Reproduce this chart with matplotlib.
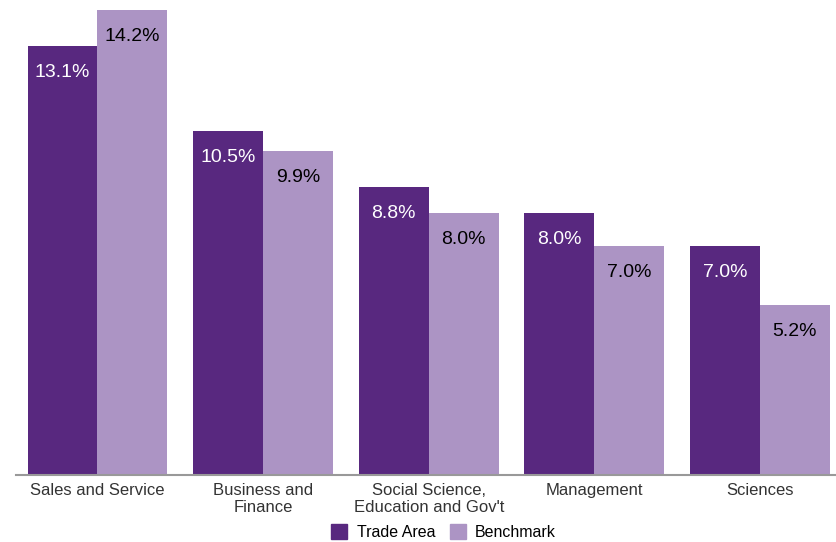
import numpy as np
import matplotlib.pyplot as plt
from matplotlib.patches import Patch

categories = ["Sales and Service", "Business and\nFinance", "Social Science,\nEducation and Gov't",
              "Management", "Sciences"]
trade_area = [13.1, 10.5, 8.8, 8.0, 7.0]
benchmark = [14.2, 9.9, 8.0, 7.0, 5.2]

dark = "#58287f"
light = "#ac94c4"

plt.rcParams["font.family"] = ["Liberation Sans", "DejaVu Sans"]

fig = plt.figure(figsize=(8.37, 5.42), dpi=100)
ax = fig.add_axes([16 / 837, 0.1236, 821 / 837, 0.8764])

x = np.arange(len(categories))
w = 0.4225
b1 = ax.bar(x - w / 2, trade_area, w, color=dark)
b2 = ax.bar(x + w / 2, benchmark, w, color=light)

for rect, v in zip(b1, trade_area):
    ax.text(rect.get_x() + rect.get_width() / 2, v - 0.82, f"{v:.1f}%",
            ha="center", va="center", color="white", fontsize=14)
for rect, v in zip(b2, benchmark):
    ax.text(rect.get_x() + rect.get_width() / 2, v - 0.82, f"{v:.1f}%",
            ha="center", va="center", color="black", fontsize=14)

ax.set_xlim(-0.492, 4.465)
ax.set_ylim(0, 14.5)
ax.set_xticks(x)
ax.set_xticklabels(categories, fontsize=12, color="#333333", linespacing=1.1)
ax.tick_params(axis="x", length=0, pad=6)
ax.set_yticks([])
for s in ["top", "right", "left"]:
    ax.spines[s].set_visible(False)
ax.spines["bottom"].set_color("#999999")
ax.spines["bottom"].set_linewidth(1.5)

handles = [Patch(color=dark, label="Trade Area"), Patch(color=light, label="Benchmark")]
fig.legend(handles=handles, loc="center", bbox_to_anchor=(0.53, 0.018), ncol=2, frameon=False,
           fontsize=11.5, handlelength=1.0, handleheight=1.0, handletextpad=0.6, columnspacing=0.9)

fig.savefig("out.png", dpi=100)
